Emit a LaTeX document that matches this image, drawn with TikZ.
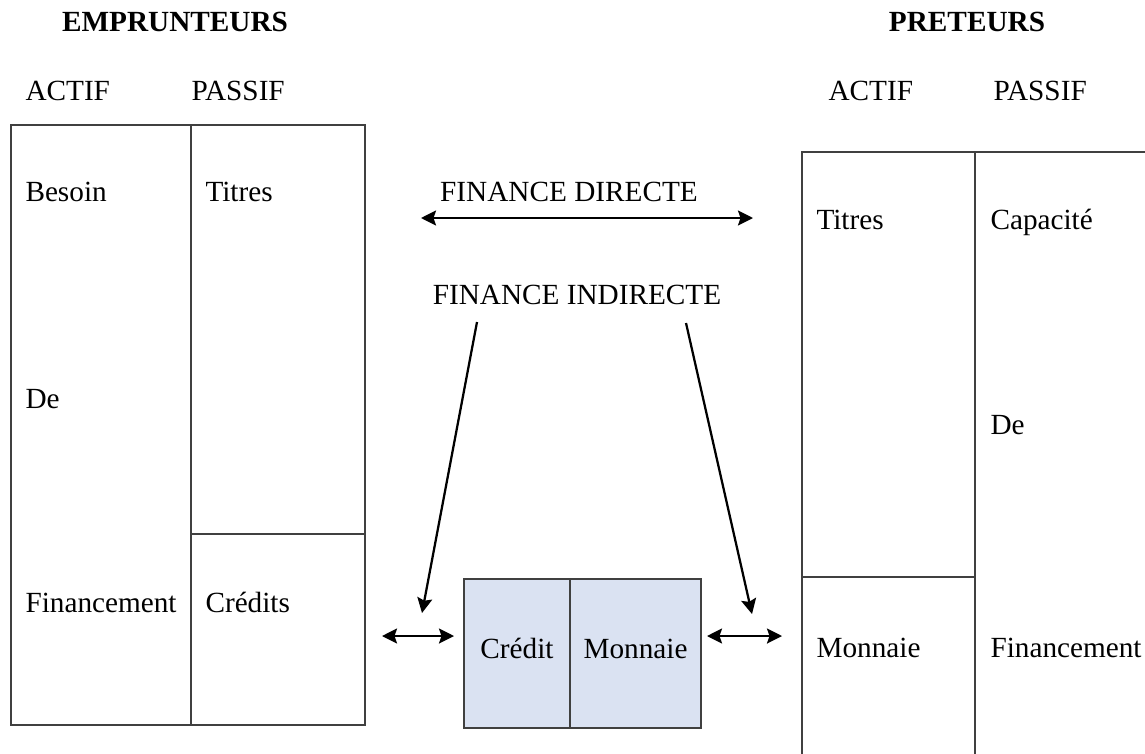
\documentclass[tikz,border=0pt]{standalone}
\usepackage{fontspec}
\setmainfont{Liberation Serif}
\usetikzlibrary{arrows.meta, positioning}
\definecolor{moneyfill}{RGB}{218,226,242}
\tikzset{
	celltext/.style={font=\fontsize{11.7}{14}\selectfont, inner sep=0pt, anchor=base west}
}
\tikzset{
	headtext/.style={font=\fontsize{11.7}{14}\selectfont, inner sep=0pt, anchor=base}
}
\tikzset{
	frame/.style={line width=0.7pt, draw=black!75}
}
\tikzset{
	flow/.style={line width=0.9pt}
}
\tikzset{
	moneybox/.style={draw=black!75, line width=0.7pt, fill=moneyfill, outer sep=0pt,
	  minimum height=59.6pt, text height=6pt, text depth=2.4pt, font=\fontsize{11.7}{14}\selectfont}
}

\begin{document}
\begin{tikzpicture}[>={Stealth[length=6pt,width=6pt,inset=1pt]}, x=0.4pt, y=-0.4pt]
      \useasboundingbox (0,0) rectangle (1145,753);
      \clip (0,0) rectangle (1145,753);
      % headings
      \node[headtext, font=\fontsize{11.7}{14}\selectfont\bfseries] (emp) at (175,31) {EMPRUNTEURS};
      \node[headtext, font=\fontsize{11.7}{14}\selectfont\bfseries] (pre) at (967,31) {PRETEURS};
      \node[celltext] (eActif) at (25,100) {ACTIF};
      \node[celltext] (ePassif) at (191,100) {PASSIF};
      \node[celltext] (pActif) at (828,100) {ACTIF};
      \node[celltext] (pPassif) at (993,100) {PASSIF};
      % borrowers balance sheet
      \draw[frame] (11,125) rectangle (365,725);
      \draw[frame] (191,125) -- (191,725);
      \draw[frame] (191,534) -- (365,534);
      \node[celltext] (eBesoin) at (25,201) {Besoin};
      \node[celltext] (eDe) at (25,408) {De};
      \node[celltext] (eFin) at (25,612) {Financement};
      \node[celltext] (eTitres) at (205,201) {Titres};
      \node[celltext] (eCredits) at (205,612) {Crédits};
      % lenders balance sheet
      \draw[frame] (802,152) rectangle (1170,780);
      \draw[frame] (975,152) -- (975,780);
      \draw[frame] (802,577) -- (975,577);
      \node[celltext] (pTitres) at (816,229) {Titres};
      \node[celltext] (pMonnaie) at (816,657) {Monnaie};
      \node[celltext] (pCap) at (990,229) {Capacité};
      \node[celltext] (pDe) at (990,434) {De};
      \node[celltext] (pFin) at (990,657) {Financement};
      % intermediary
      \node[moneybox, minimum width=42.4pt] (credit) at (517,653.5) {Crédit};
      \node[moneybox, minimum width=52.4pt, right=0pt of credit] (monnaie) {Monnaie};
      % finance labels
      \node[headtext] (direct) at (569,201) {FINANCE DIRECTE};
      \node[headtext] (indirect) at (577,304) {FINANCE INDIRECTE};
      \coordinate (dirL) at (421,218);
      \coordinate (dirR) at (753,218);
      \coordinate (indL) at (477,322);
      \coordinate (indLe) at (422,613);
      \coordinate (indR) at (686,323);
      \coordinate (indRe) at (752,614);
      \coordinate (exL) at (382,636);
      \coordinate (exLe) at (454,636);
      \coordinate (exR) at (707,636);
      \coordinate (exRe) at (782,636);
      \draw[flow, <->] (dirL) -- (dirR);
      \draw[flow, ->] (indL) -- (indLe);
      \draw[flow, ->] (indR) -- (indRe);
      \draw[flow, <->] (exL) -- (exLe);
      \draw[flow, <->] (exR) -- (exRe);
\end{tikzpicture}
\end{document}
